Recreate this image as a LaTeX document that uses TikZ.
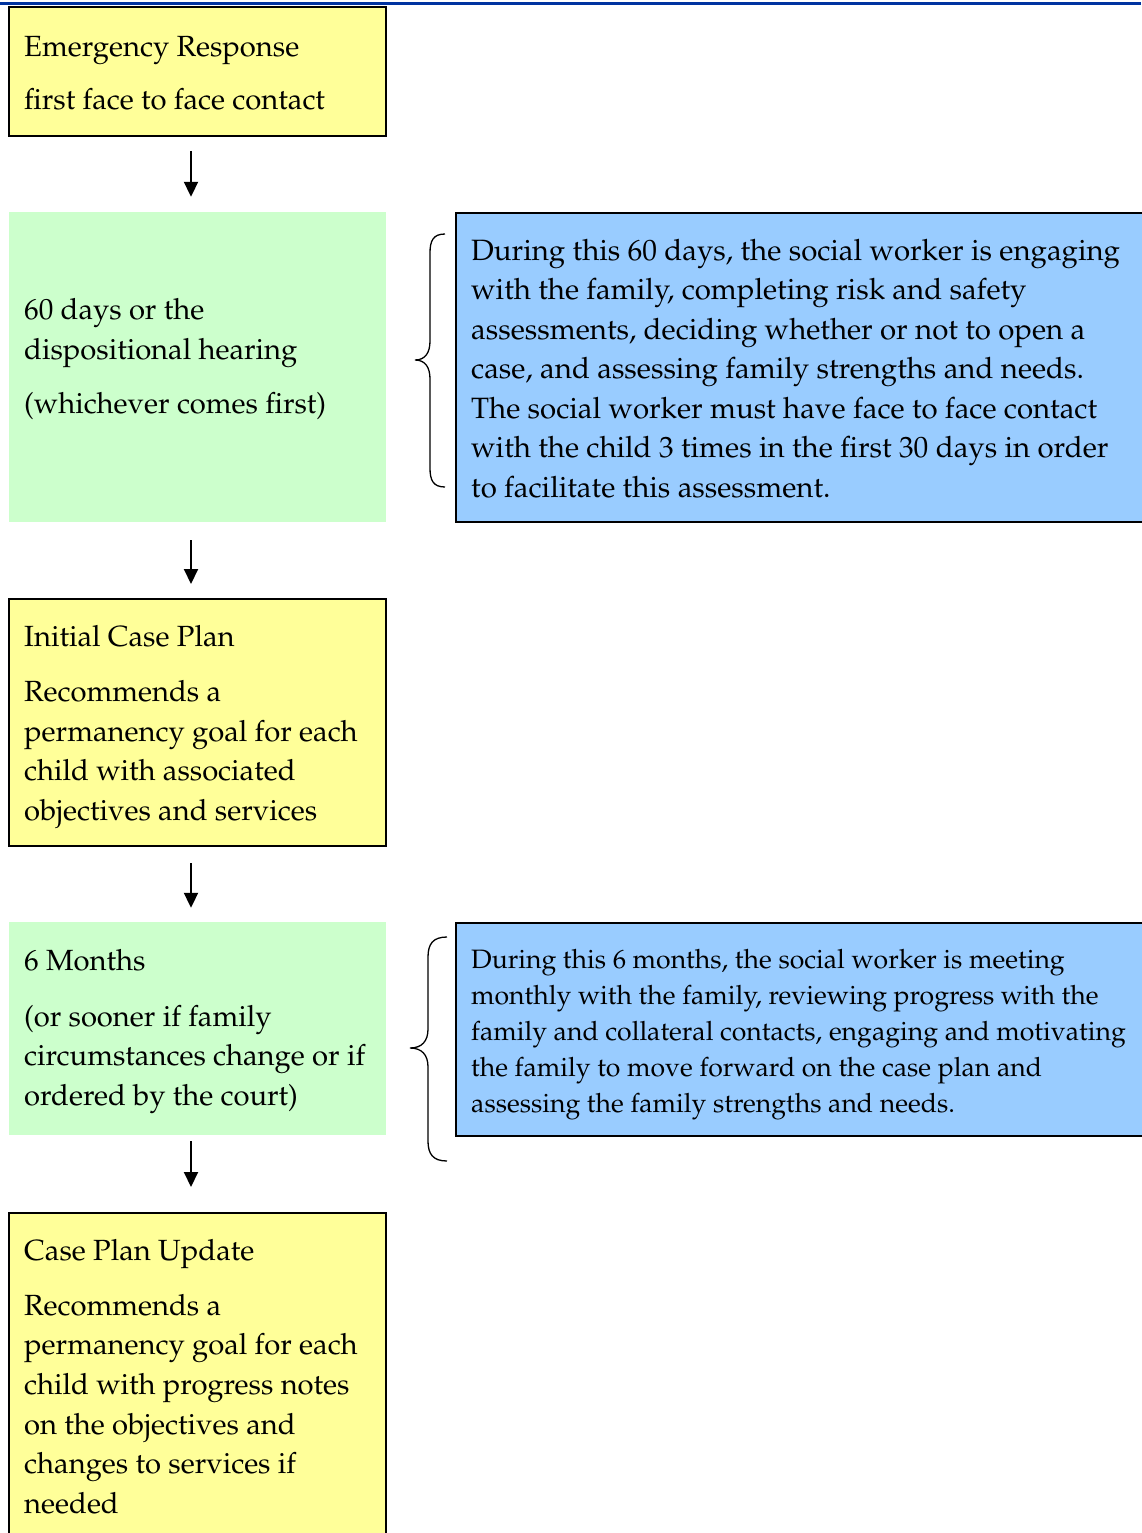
\documentclass[tikz,border=0pt]{standalone}
\usepackage[T1]{fontenc}
\renewcommand{\rmdefault}{ppl}
\usepackage{tikz}
\usepackage{xcolor}
\usetikzlibrary{arrows.meta}
\definecolor{stepyellow}{HTML}{FFFF99}
\definecolor{stepgreen}{HTML}{CCFFCC}
\definecolor{noteblue}{HTML}{99CCFF}
\definecolor{rulenavy}{HTML}{0033A0}

\tikzset{
  stagebox/.style={draw=black, line width=2pt, fill=stepyellow, minimum width=377pt},
  periodbox/.style={fill=stepgreen, minimum width=377pt},
  notebox/.style={draw=black, line width=2pt, fill=noteblue, minimum width=690pt},
  boxtext/.style={anchor=north west, inner sep=0pt, align=left, font=\fontsize{29.2}{39.7}\selectfont},
  notetext/.style={anchor=north west, inner sep=0pt, align=left},
  flow/.style={line width=2pt, -{Triangle[length=15pt,width=14pt]}},
  curly/.style={line width=1.3pt}
}

\begin{document}
\begin{tikzpicture}[x=1pt,y=-1pt]
\useasboundingbox (0,0) rectangle (1141,1533);
\draw[rulenavy, line width=3pt] (0,4) -- (1141,4);

% left column
\node[stagebox, minimum height=129pt] (er) at (197.5,71.5) {};
\node[periodbox, minimum height=310pt] (sixty) at (197.5,367) {};
\node[stagebox, minimum height=247pt] (icp) at (197.5,722.5) {};
\node[periodbox, minimum height=213pt] (six) at (197.5,1028.5) {};
\node[stagebox, minimum height=330pt] (cpu) at (197.5,1378) {};

\node[boxtext] (ertext) at (24,36) {Emergency Response\\[13pt]first face to face contact};
\node[boxtext] (sixtytext) at (24,298) {60 days or the\\dispositional hearing\\[15pt](whichever comes first)};
\node[boxtext] (icptext) at (24,625.5) {Initial Case Plan\\[15pt]Recommends a\\permanency goal for each\\child with associated\\objectives and services};
\node[boxtext] (sixtext) at (24,949) {6 Months\\[16pt](or sooner if family\\circumstances change or if\\ordered by the court)};
\node[boxtext] (cputext) at (24,1239) {Case Plan Update\\[15pt]Recommends a\\permanency goal for each\\child with progress notes\\on the objectives and\\changes to services if\\needed};

% arrows
\draw[flow, shorten <=14pt, shorten >=15pt] ([xshift=-6.5pt]er.south) -- ([xshift=-6.5pt]sixty.north);
\draw[flow, shorten <=18pt, shorten >=14pt] ([xshift=-6.5pt]sixty.south) -- ([xshift=-6.5pt]icp.north);
\draw[flow, shorten <=16pt, shorten >=14pt] ([xshift=-6.5pt]icp.south) -- ([xshift=-6.5pt]six.north);
\draw[flow, shorten <=6pt, shorten >=25pt] ([xshift=-6.5pt]six.south) -- ([xshift=-6.5pt]cpu.north);

% right column
\node[notebox, minimum height=309pt] (note60) at (801,367.5) {};
\node[notebox, minimum height=213pt] (note6) at (801,1029.5) {};

\node[notetext, font=\fontsize{29.4}{39.5}\selectfont] (note60text) at (471,239) {During this 60 days, the social worker is engaging\\with the family, completing risk and safety\\assessments, deciding whether or not to open a\\case, and assessing family strengths and needs.\\The social worker must have face to face contact\\with the child 3 times in the first 30 days in order\\to facilitate this assessment.};
\node[notetext, font=\fontsize{26.6}{36}\selectfont] (note6text) at (471,949) {During this 6 months, the social worker is meeting\\monthly with the family, reviewing progress with the\\family and collateral contacts, engaging and motivating\\the family to move forward on the case plan and\\assessing the family strengths and needs.};

% braces
\draw[curly] (445,234) .. controls (433,234) and (430,241) .. (430,253) -- (430,341)
  .. controls (430,353) and (425,360) .. (415,360)
  .. controls (425,360) and (430,367) .. (430,379) -- (430,468)
  .. controls (430,480) and (433,487) .. (445,487);
\draw[curly] (447,937) .. controls (433,937) and (428,944) .. (428,957) -- (428,1029)
  .. controls (428,1041) and (422,1048) .. (410,1048)
  .. controls (422,1048) and (428,1055) .. (428,1067) -- (428,1141)
  .. controls (428,1154) and (433,1161) .. (447,1161);
\end{tikzpicture}
\end{document}
